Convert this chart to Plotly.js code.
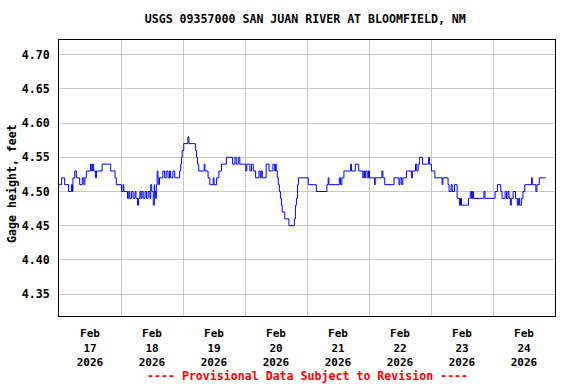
<!DOCTYPE html>
<html>
<head>
<meta charset="utf-8">
<script src="https://cdn.plot.ly/plotly-3.0.1.min.js"></script>
<style>html,body{margin:0;padding:0;background:#fff;}#chart{width:576px;height:384px;}</style>
</head>
<body>
<div id="chart"></div>
<script>
// Hours since 2026-02-17 00:00 and gage height (ft), 15-min series
const hours = [0,1.0,2.2,3.7,4.8,5.2,5.4,6.1,6.7,8.0,9.0,9.6,10.0,10.6,12.2,12.7,12.9,13.4,14.1,14.5,16.7,20.0,21.7,22.2,24.2,24.8,25.1,26.5,27.0,27.4,28.1,28.7,29.4,29.8,30.4,30.8,31.3,31.7,32.1,32.6,33.3,33.9,34.5,35.2,35.5,35.9,36.5,36.9,
37.0,37.4,37.7,38.0,38.3,38.6,38.9,40.2,40.9,41.5,42.2,42.8,43.2,44.1,44.8,46.7,47.1,47.4,47.7,48.3,49.9,50.3,52.8,53.2,53.6,54.1,56.2,56.5,57.7,58.4,59.7,60.0,61.0,61.9,62.9,64.8,67.2,68.1,68.6,69.4,70.0,72.3,72.7,73.9,74.5,75.2,
76.1,77.4,77.9,78.3,78.7,80.2,81.3,82.8,83.5,83.8,84.1,84.5,84.9,85.3,85.7,86.1,86.4,87.4,89.0,91.1,91.5,91.9,92.3,92.7,96.5,99.6,103.7,104.2,104.5,108.5,109.0,109.5,110.3,112.9,113.2,
114.7,116.0,117.6,118.0,118.3,118.7,119.3,119.8,120.2,122.2,122.4,125.0,125.4,126.1,129.7,131.6,132.0,132.7,133.1,134.5,136.4,136.8,138.0,138.5,139.0,139.6,140.7,143.1,143.4,144.2,145.5,148.3,148.6,150.6,151.0,
151.8,152.2,153.1,154.1,155.0,155.4,155.8,158.5,159.2,159.7,160.1,160.5,164.5,164.9,168.8,169.7,171.0,171.5,172.7,173.2,173.8,174.2,174.7,175.1,175.8,176.7,177.4,177.9,178.3,179.0,179.6,180.3,182.9,183.2,184.6,185.0,185.9,188.4];
const gageHeight = [4.51,4.52,4.51,4.50,4.51,4.50,4.52,4.53,4.52,4.51,4.52,4.51,4.52,4.53,4.54,4.53,4.54,4.53,4.52,4.53,4.54,4.53,4.52,4.51,4.50,4.51,4.50,4.49,4.50,4.49,4.50,4.49,4.50,4.49,4.48,4.49,4.50,4.49,4.50,4.49,4.50,4.49,4.50,4.49,4.51,4.50,4.48,4.51,
4.50,4.49,4.51,4.53,4.52,4.51,4.52,4.53,4.52,4.53,4.52,4.53,4.52,4.53,4.52,4.53,4.54,4.55,4.56,4.57,4.58,4.57,4.56,4.55,4.54,4.53,4.54,4.53,4.52,4.51,4.52,4.51,4.52,4.53,4.54,4.55,4.54,4.55,4.54,4.55,4.54,4.53,4.54,4.53,4.54,4.53,
4.52,4.53,4.52,4.53,4.52,4.54,4.53,4.54,4.53,4.54,4.53,4.52,4.51,4.50,4.49,4.48,4.47,4.46,4.45,4.46,4.48,4.49,4.51,4.52,4.51,4.50,4.51,4.52,4.51,4.52,4.51,4.52,4.53,4.54,4.53,
4.54,4.53,4.52,4.53,4.52,4.53,4.52,4.53,4.52,4.51,4.52,4.53,4.52,4.51,4.52,4.51,4.52,4.51,4.52,4.53,4.52,4.53,4.54,4.53,4.54,4.55,4.54,4.55,4.54,4.53,4.52,4.51,4.52,4.51,4.50,
4.51,4.50,4.51,4.49,4.48,4.49,4.48,4.49,4.50,4.49,4.50,4.49,4.50,4.49,4.50,4.51,4.50,4.49,4.50,4.49,4.50,4.49,4.48,4.49,4.50,4.49,4.48,4.49,4.48,4.49,4.50,4.51,4.52,4.51,4.50,4.51,4.52,4.52];

const tickDates = ['2026-02-17 12:00','2026-02-18 12:00','2026-02-19 12:00','2026-02-20 12:00','2026-02-21 12:00','2026-02-22 12:00','2026-02-23 12:00','2026-02-24 12:00'];
const tickMonths = ['Feb','Feb','Feb','Feb','Feb','Feb','Feb','Feb'];
const tickDays = ['17','18','19','20','21','22','23','24'];
const tickYears = ['2026','2026','2026','2026','2026','2026','2026','2026'];
const gridDates = ['2026-02-18','2026-02-19','2026-02-20','2026-02-21','2026-02-22','2026-02-23','2026-02-24'];
const yTicks = [4.35,4.40,4.45,4.50,4.55,4.60,4.65,4.70];

const base = Date.UTC(2026,1,17,0,0,0);
const toStr = ms => new Date(ms).toISOString().slice(0,19).replace('T',' ');
const xDates = hours.map(h => toStr(base + Math.round(h*3600e3/60000)*60000));

const font = {family:'"DejaVu Sans Mono", monospace', size:11.6, color:'#000', weight:'bold'};
const xFont = {family:'"DejaVu Sans Mono", monospace', size:11, color:'#000', weight:'bold'};
const xRange = ['2026-02-17 00:00','2026-02-25 00:00'];

const trace = {
  x: xDates, y: gageHeight, type:'scatter', mode:'lines',
  line:{color:'#0000ff', width:1, shape:'hv'}, hoverinfo:'skip'
};

const layout = {
  width:576, height:384,
  margin:{l:59, r:21, t:40, b:68},
  paper_bgcolor:'#fff', plot_bgcolor:'#fff',
  showlegend:false,
  font: font,
  title:{text:'USGS 09357000 SAN JUAN RIVER AT BLOOMFIELD, NM', font:font, x:0.53, xanchor:'center', y:0.95, yanchor:'middle'},
  xaxis:{type:'date', range:xRange, tickmode:'array', tickvals:tickDates,
    ticktext: tickDates.map((d,i)=>tickMonths[i]+'<br>'+tickDays[i]+'<br>'+tickYears[i]),
    showgrid:false, zeroline:false, showline:true, mirror:true, linecolor:'#000', linewidth:1,
    ticks:'outside', ticklen:7, tickcolor:'rgba(0,0,0,0)', tickfont:xFont},
  xaxis2:{type:'date', range:xRange, overlaying:'x', side:'bottom', tickmode:'array', tickvals:gridDates,
    showticklabels:false, showgrid:true, gridcolor:'#c8c8c8', gridwidth:1, zeroline:false, showline:false, ticks:''},
  yaxis:{range:[4.318,4.7215], tickmode:'array', tickvals:yTicks, tickformat:'.2f',
    showgrid:true, gridcolor:'#c8c8c8', gridwidth:1, zeroline:false, showline:true, mirror:true, linecolor:'#000', linewidth:1,
    ticks:'outside', ticklen:6, tickcolor:'rgba(0,0,0,0)', tickfont:font},
  annotations:[
    {text:'Gage height, feet', textangle:-90, xref:'paper', yref:'paper', x:-0.096, y:0.48, xanchor:'center', yanchor:'middle', showarrow:false, font:font},
    {text:'---- Provisional Data Subject to Revision ----', xref:'paper', yref:'paper', x:0.50, y:-0.217, xanchor:'center', yanchor:'middle', showarrow:false,
    font:{family:'"DejaVu Sans Mono", monospace', size:11.6, color:'#ff0000', weight:'bold'}}]
};

const gridTrace = {x:[xRange[0]], y:[4.5], xaxis:'x2', type:'scatter', mode:'markers', marker:{opacity:0}, hoverinfo:'skip'};

Plotly.newPlot('chart', [gridTrace, trace], layout, {staticPlot:true, displayModeBar:false});
</script>
</body>
</html>
